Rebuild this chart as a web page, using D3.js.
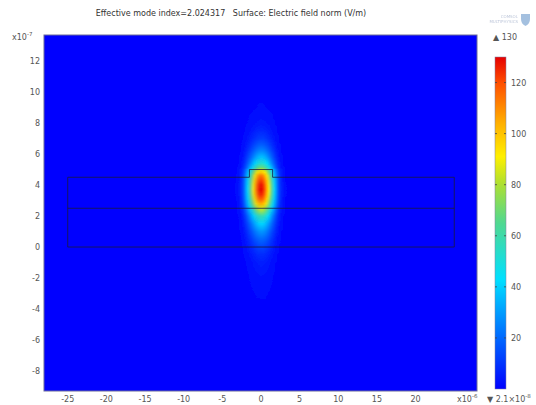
<!DOCTYPE html>
<html>
<head>
<meta charset="utf-8">
<script src="https://cdn.jsdelivr.net/npm/d3@7"></script>
<style>
body { margin: 0; background: #fff; }
text { font-family: "DejaVu Sans", sans-serif; fill: #555; white-space: pre; }
</style>
</head>
<body>
<svg id="chart" width="536" height="405"></svg>
<script>

var title = "Effective mode index=2.024317   Surface: Electric field norm (V/m)";
var xTicks = [-25, -20, -15, -10, -5, 0, 5, 10, 15, 20];
var yTicks = [-8, -6, -4, -2, 0, 2, 4, 6, 8, 10, 12];
var barTicks = [20, 40, 60, 80, 100, 120];
var fieldMax = 130;

// field norm along the mode centre line (y in 1e-7 m, V/m)
var profileY = [-9.4, -5, -4, -3, -2, -1, -0.5, 0, 0.5, 1.0, 1.5, 2.0, 2.5, 2.8, 3.1, 3.4, 3.7,
                4.0, 4.3, 4.6, 4.8, 5.0, 5.1, 5.4, 5.8, 6.2, 6.6, 7.0, 7.5, 8, 9, 10, 13.7];
var profileV = [0, 0.4, 0.8, 1.6, 3, 5.5, 8.5, 13, 20, 29, 41, 58, 86, 105, 118, 126, 130,
                128, 122, 113, 100, 88, 70, 52, 37, 26, 18, 11.5, 7, 4, 1.5, 0.5, 0];

// relative fall-off away from x = 0 (x in 1e-6 m)
var offsetX = [0, 0.25, 0.5, 0.75, 1.0, 1.25, 1.5, 1.75, 2.0, 2.25, 2.5, 2.75, 3.0, 3.25, 3.5];
var shapeX  = [1.0, 0.98, 0.92, 0.82, 0.70, 0.57, 0.45, 0.33, 0.22, 0.13, 0.07, 0.04, 0.02, 0.01, 0.004];

// geometry outlines, polylines in (x 1e-6 m, y 1e-7 m)
var outline = [[-25, 0], [25, 0], [25, 4.5], [1.5, 4.5], [1.5, 5], [-1.5, 5], [-1.5, 4.5], [-25, 4.5], [-25, 0]];
var interface25 = [[-25, 2.5], [25, 2.5]];

// rainbow colour table
var cmapPos = [0, 0.33, 0.5, 0.62, 0.7, 0.8, 0.92, 1];
var cmapCol = ["#0000ff", "#00e0ff", "#50d890", "#b0e030", "#fff000", "#ffb000", "#ff5000", "#e60000"];

var svg = d3.select("#chart");
var plot = {left: 44, top: 35, right: 477, bottom: 391};

var x = d3.scaleLinear().domain([-28.07, 27.94]).range([plot.left, plot.right]);
var y = d3.scaleLinear().domain([-9.29, 13.68]).range([plot.bottom, plot.top]);
var color = d3.scaleLinear()
    .domain(cmapPos.map(function(p) { return p * fieldMax; }))
    .range(cmapCol)
    .interpolate(d3.interpolateRgb)
    .clamp(true);

var defs = svg.append("defs");
defs.append("clipPath").attr("id", "plotclip")
    .append("rect")
    .attr("x", plot.left).attr("y", plot.top)
    .attr("width", plot.right - plot.left).attr("height", plot.bottom - plot.top);

var blur = defs.append("filter").attr("id", "soft")
    .attr("filterUnits", "userSpaceOnUse")
    .attr("x", plot.left).attr("y", plot.top)
    .attr("width", plot.right - plot.left).attr("height", plot.bottom - plot.top);
blur.append("feGaussianBlur").attr("stdDeviation", "1.2 0.6");

// background = lowest value
svg.append("rect")
    .attr("x", plot.left).attr("y", plot.top)
    .attr("width", plot.right - plot.left).attr("height", plot.bottom - plot.top)
    .attr("fill", color(0));

// columns across the mode, each with a vertical gradient
var columns = [];
offsetX.forEach(function(o, i) {
    columns.push({x: o, s: shapeX[i]});
    if (o > 0) columns.unshift({x: -o, s: shapeX[i]});
});
var colW = 0.25;
var yTop = y.domain()[1], yBot = y.domain()[0];

columns.forEach(function(c, i) {
    var g = defs.append("linearGradient")
        .attr("id", "col" + i)
        .attr("gradientUnits", "userSpaceOnUse")
        .attr("x1", 0).attr("x2", 0)
        .attr("y1", y(yTop)).attr("y2", y(yBot));
    for (var k = profileY.length - 1; k >= 0; k--) {
        g.append("stop")
            .attr("offset", (y(profileY[k]) - y(yTop)) / (y(yBot) - y(yTop)))
            .attr("stop-color", color(profileV[k] * c.s));
    }
});

svg.append("g")
    .attr("clip-path", "url(#plotclip)")
    .append("g")
    .attr("filter", "url(#soft)")
    .selectAll("rect")
    .data(columns)
    .enter().append("rect")
        .attr("x", function(d) { return x(d.x - colW / 2); })
        .attr("y", y(yTop))
        .attr("width", x(colW) - x(0) + 0.3)
        .attr("height", y(yBot) - y(yTop))
        .attr("fill", function(d, i) { return "url(#col" + i + ")"; });

// geometry
var line = d3.line()
    .x(function(d) { return x(d[0]); })
    .y(function(d) { return y(d[1]); });
svg.append("g").selectAll("path")
    .data([outline, interface25])
    .enter().append("path")
        .attr("d", line)
        .attr("fill", "none")
        .attr("stroke", "#1a1a40")
        .attr("stroke-opacity", 0.8)
        .attr("stroke-width", 1);

// frame
svg.append("rect")
    .attr("x", plot.left).attr("y", plot.top)
    .attr("width", plot.right - plot.left).attr("height", plot.bottom - plot.top)
    .attr("fill", "none").attr("stroke", "#6a6a9a").attr("stroke-width", 1);

// tick labels
svg.append("g").selectAll("text")
    .data(yTicks)
    .enter().append("text")
        .attr("x", plot.left - 4)
        .attr("y", function(d) { return y(d) + 3; })
        .attr("text-anchor", "end")
        .attr("font-size", 8)
        .text(function(d) { return d; });

svg.append("g").selectAll("text")
    .data(xTicks)
    .enter().append("text")
        .attr("x", function(d) { return x(d); })
        .attr("y", plot.bottom + 11)
        .attr("text-anchor", "middle")
        .attr("font-size", 8)
        .text(function(d) { return d; });

function power(px, py, base, exp) {
    var t = svg.append("text").attr("x", px).attr("y", py).attr("font-size", 8);
    t.append("tspan").text(base);
    t.append("tspan").attr("font-size", 5.5).attr("dy", -4).text(exp);
    return t;
}
power(12, 40, "x10", "-7");
power(457, plot.bottom + 11, "x10", "-6");

// title
svg.append("text")
    .attr("x", 231).attr("y", 16)
    .attr("text-anchor", "middle")
    .attr("font-size", 8)
    .style("fill", "#333")
    .text(title);

// colour bar
var bar = {left: 495, width: 11, top: 57, bottom: 389};
var c = d3.scaleLinear().domain([0, fieldMax]).range([bar.bottom, bar.top]);
var bg = defs.append("linearGradient").attr("id", "bargrad")
    .attr("x1", 0).attr("x2", 0).attr("y1", 1).attr("y2", 0);
cmapPos.forEach(function(p, i) {
    bg.append("stop").attr("offset", p).attr("stop-color", cmapCol[i]);
});
svg.append("rect")
    .attr("x", bar.left).attr("y", bar.top)
    .attr("width", bar.width).attr("height", bar.bottom - bar.top)
    .attr("fill", "url(#bargrad)")
    .attr("stroke", "#8080a0").attr("stroke-width", 0.5);

var bt = svg.append("g").selectAll("g").data(barTicks).enter().append("g");
bt.append("line")
    .attr("x1", bar.left).attr("x2", bar.left + 2)
    .attr("y1", function(d) { return c(d); }).attr("y2", function(d) { return c(d); })
    .attr("stroke", "#444").attr("stroke-width", 0.8);
bt.append("line")
    .attr("x1", bar.left + bar.width - 2).attr("x2", bar.left + bar.width)
    .attr("y1", function(d) { return c(d); }).attr("y2", function(d) { return c(d); })
    .attr("stroke", "#444").attr("stroke-width", 0.8);
bt.append("text")
    .attr("x", bar.left + bar.width + 5)
    .attr("y", function(d) { return c(d) + 3; })
    .attr("font-size", 8)
    .text(function(d) { return d; });

svg.append("text")
    .attr("x", 493).attr("y", 40)
    .attr("font-size", 8)
    .text("\u25B2 " + fieldMax);
var mn = svg.append("text").attr("x", 487).attr("y", plot.bottom + 11).attr("font-size", 8);
mn.append("tspan").text("\u25BC 2.1\u00D710");
mn.append("tspan").attr("font-size", 5.5).attr("dy", -4).text("-8");

// logo
var logo = svg.append("g").attr("opacity", 0.55);
logo.append("text").attr("x", 518).attr("y", 18).attr("text-anchor", "end")
    .attr("font-size", 4).style("fill", "#8899bb").text("COMSOL");
logo.append("text").attr("x", 518).attr("y", 23).attr("text-anchor", "end")
    .attr("font-size", 4).style("fill", "#8899bb").text("MULTIPHYSICS");
logo.append("path")
    .attr("d", "M521,14 L530,14 L530,19 Q530,24 525.5,26 Q521,24 521,19 Z")
    .attr("fill", "#5b8ec6");

</script>
</body>
</html>
